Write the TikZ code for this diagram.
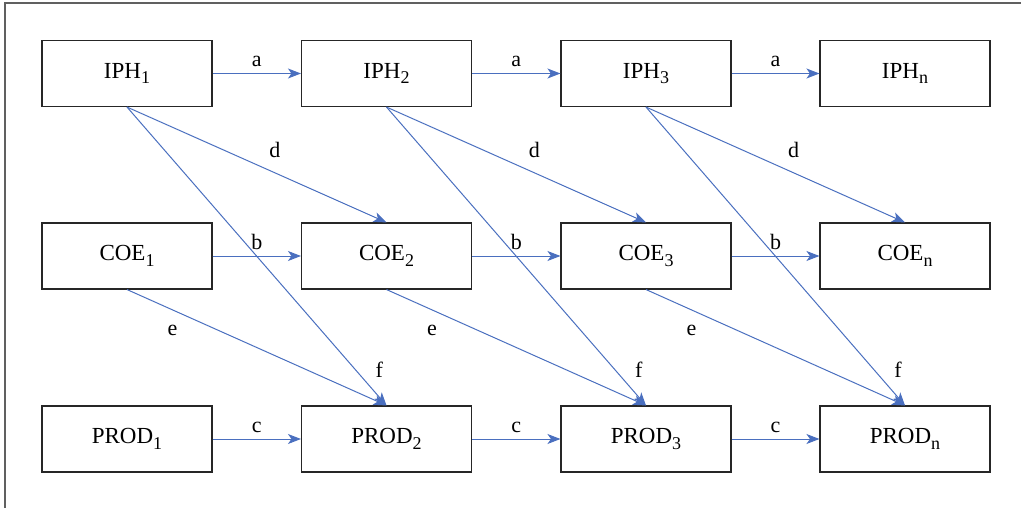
\documentclass[tikz,border=0pt]{standalone}
\usepackage{fontspec}
\setmainfont{Liberation Serif}
\usetikzlibrary{arrows.meta}
\definecolor{arrowblue}{HTML}{4A6FBF}
\definecolor{framegray}{HTML}{606060}
\newcommand{\mysub}[1]{\raisebox{-5.5pt}{\fontsize{18}{18}\selectfont #1}}
\tikzset{
  box/.style={draw=black!85, line width=1.1pt, minimum width=170pt, minimum height=66pt, inner sep=0pt, font=\fontsize{23}{25}\selectfont},
  conn/.style={draw=arrowblue, line width=1pt, -{Stealth[length=13pt,width=10pt,inset=3.5pt]}},
  lab/.style={font=\fontsize{22}{24}\selectfont, inner sep=0pt, text=black}
}
\begin{document}
\begin{tikzpicture}[x=1pt,y=-1pt]
\useasboundingbox (0,0) rectangle (1021,508);
\draw[framegray, line width=1.2pt] (5,508) coordinate (fb) -- (5,3) coordinate (fc) -- (1021,3) coordinate (fr);
% nodes
\foreach \n/\x/\s in {1/127/1,2/386.5/2,3/646/3,4/905/n}{
  \node[box] (i\n) at (\x,73.5) {IPH\mysub{\s}};
  \node[box] (c\n) at (\x,256) {COE\mysub{\s}};
  \node[box] (p\n) at (\x,439) {PROD\mysub{\s}};
}
% connectors
\foreach \a/\b in {1/2,2/3,3/4}{
  \draw[conn] (i\a.east) -- node[lab, pos=0.5, yshift=12pt] {a} (i\b.west);
  \draw[conn] (c\a.east) -- node[lab, pos=0.5, yshift=14pt] {b} (c\b.west);
  \draw[conn] (p\a.east) -- node[lab, pos=0.5, yshift=12pt] {c} (p\b.west);
  \draw[conn] (i\a.south) -- node[lab, pos=0.5, xshift=18pt, yshift=14.5pt] {d} (c\b.north);
  \draw[conn] (c\a.south) -- node[lab, pos=0.17, xshift=1.5pt, yshift=-21pt] {e} (p\b.north);
  \draw[conn] (i\a.south) -- node[lab, pos=0.88, xshift=24pt] {f} (p\b.north);
}
\end{tikzpicture}
\end{document}
